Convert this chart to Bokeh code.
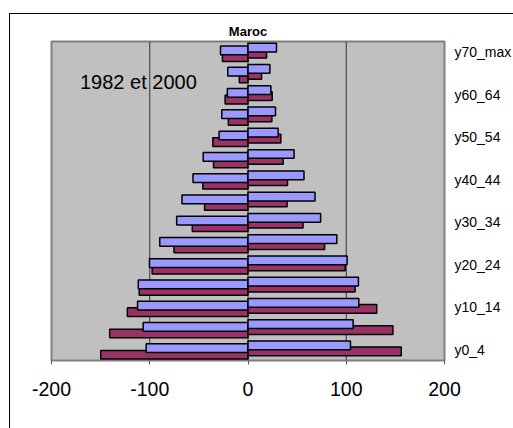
from bokeh.plotting import figure
from bokeh.models import Range1d, LinearAxis, FixedTicker, Label, ColumnDataSource
from bokeh.embed import file_html
from bokeh.resources import INLINE

# ---- data ----
age_groups = ["y0_4", "y5_9", "y10_14", "y15_19", "y20_24", "y25_29", "y30_34",
              "y35_39", "y40_44", "y45_49", "y50_54", "y55_59", "y60_64",
              "y65_69", "y70_max"]
hommes_1982 = [149.9, 140.8, 122.8, 110.7, 97.6, 75.3, 56.7, 44.2, 46.0, 35.1,
               35.8, 20.0, 23.3, 8.8, 26.0]
hommes_2000 = [103.6, 106.7, 112.4, 111.7, 100.3, 89.8, 72.6, 67.2, 56.0, 45.6,
               29.4, 26.7, 21.0, 20.6, 28.0]
femmes_1982 = [156.0, 147.5, 131.0, 109.0, 98.9, 78.0, 56.0, 39.8, 40.2, 35.8,
               33.4, 24.3, 24.6, 13.8, 18.9]
femmes_2000 = [104.3, 107.0, 112.8, 112.4, 100.9, 90.4, 73.9, 68.2, 57.0, 46.9,
               30.7, 28.0, 23.3, 22.3, 29.0]
x_ticks = [-200, -100, 0, 100, 200]
title_text = "Maroc"
note_text = "1982 et 2000"

C_1982 = "#993366"
C_2000 = "#9999FF"
FONT = "Liberation Sans"

n = len(age_groups)
idx = list(range(n))

p = figure(width=504, height=415, output_backend="svg", toolbar_location=None,
           title=title_text, x_range=Range1d(-200, 200), y_range=Range1d(-0.5, n - 0.5),
           min_border_left=41, min_border_top=27, min_border_right=66,
           min_border_bottom=69, x_axis_location=None, y_axis_location=None,
           margin=(13, 0, 0, 9))
p.styles = {"border-left": "1px solid black", "border-top": "1px solid black"}

p.title.align = "center"
p.title.text_font = FONT
p.title.text_font_size = "13px"
p.title.text_font_style = "bold"
p.title.text_color = "black"
p.title.standoff = 6
p.title.offset = 3.5

p.background_fill_color = "#C0C0C0"
p.border_fill_color = "white"
p.outline_line_color = "#808080"
p.outline_line_width = 2
p.xgrid.visible = False
p.ygrid.visible = False

# vertical grid lines
for gx in [-100, 0, 100]:
    p.segment(x0=[gx], y0=[-0.5], x1=[gx], y1=[n - 0.5], line_color="#333333",
              line_width=1)

H = 0.41
src = ColumnDataSource(dict(
    y=idx,
    m82=[-v for v in hommes_1982],
    m00=[-v for v in hommes_2000],
    f82=femmes_1982,
    f00=femmes_2000,
    yl82=[i - 0.23 for i in idx],
    yl00=[i + 0.08 for i in idx],
    yr82=[i - 0.07 for i in idx],
    yr00=[i + 0.21 for i in idx],
))

p.hbar(y="yl82", left="m82", right=0, height=H, source=src, fill_color=C_1982,
       line_color="black", line_width=1.5)
p.hbar(y="yl00", left="m00", right=0, height=H, source=src, fill_color=C_2000,
       line_color="black", line_width=1.5)
p.hbar(y="yr82", left=0, right="f82", height=H, source=src, fill_color=C_1982,
       line_color="black", line_width=1.5)
p.hbar(y="yr00", left=0, right="f00", height=H, source=src, fill_color=C_2000,
       line_color="black", line_width=1.5)

# bottom value axis
xa = LinearAxis(ticker=FixedTicker(ticks=x_ticks))
xa.major_label_overrides = {t: str(t) for t in x_ticks}
xa.axis_line_color = "#808080"
xa.axis_line_width = 1
xa.major_tick_in = 0
xa.major_tick_out = 4
xa.major_tick_line_color = "#555555"
xa.minor_tick_line_color = None
xa.major_label_text_font = FONT
xa.major_label_text_font_size = "19.5px"
xa.major_label_text_color = "black"
xa.major_label_standoff = 17
p.add_layout(xa, "below")

# right category axis
ya = LinearAxis(ticker=FixedTicker(ticks=idx[::2]))
ya.major_label_overrides = {i: age_groups[i] for i in idx[::2]}
ya.axis_line_color = None
ya.major_tick_line_color = None
ya.minor_tick_line_color = None
ya.major_tick_in = 0
ya.major_tick_out = 0
ya.major_label_standoff = 10
ya.major_label_text_font = FONT
ya.major_label_text_font_size = "14px"
ya.major_label_text_color = "black"
ya.major_label_text_baseline = "middle"
p.add_layout(ya, "right")

p.add_layout(Label(x=-171, y=12.6, text=note_text, text_font=FONT,
                   text_font_size="20px", text_align="left",
                   text_baseline="alphabetic", text_color="black"))

open("out.html", "w").write(file_html(p, INLINE))
